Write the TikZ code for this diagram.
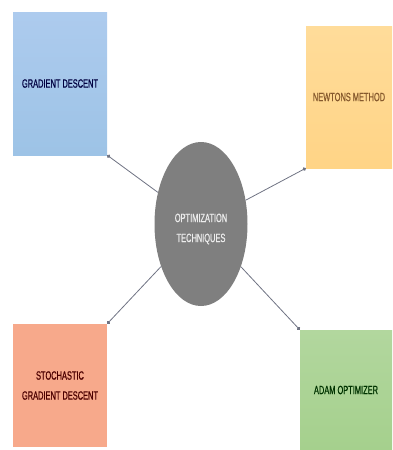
\documentclass[tikz,border=0pt]{standalone}
\usepackage{fontspec}
\usepackage{xcolor}
\usepackage{tikz}
\usetikzlibrary{arrows.meta,positioning,shapes.geometric}
\newfontfamily\narrowfont[FakeStretch=0.62,FakeBold=0.6]{Liberation Sans}
\definecolor{bluex}{HTML}{9DC3E6}
\definecolor{bluetop}{HTML}{ADCBEE}
\definecolor{orangex}{HTML}{FFD486}
\definecolor{orangetop}{HTML}{FFDC9A}
\definecolor{salmonx}{HTML}{F7A98B}
\definecolor{greenx}{HTML}{A5D08D}
\definecolor{greentop}{HTML}{B2D79E}
\definecolor{grayx}{HTML}{7F7F7F}
\definecolor{linex}{HTML}{6F7383}
\tikzset{
  card/.style={minimum width=94pt,minimum height=143pt,inner sep=0pt,align=center,
    font=\narrowfont\fontsize{12}{20}\selectfont},
  conn/.style={-{Circle[length=3.5pt]},linex,line width=0.8pt}
}
\begin{document}
\begin{tikzpicture}[x=1pt,y=-1pt]
\useasboundingbox (0,0) rectangle (392,450);
\node[ellipse,fill=grayx,minimum width=93pt,minimum height=164pt,inner sep=0pt] (opt) at (201,224) {};
\node[align=center,text=white!85!gray,font=\narrowfont\fontsize{12}{20}\selectfont] (optext) at ([yshift=-5pt]opt.center) {OPTIMIZATION\\TECHNIQUES};
\node[card,top color=bluetop,bottom color=bluex,text=blue!25!black] (gd) at (60,83.5) {GRADIENT DESCENT};
\node[card,top color=orangetop,bottom color=orangex,text=brown!70!black,minimum width=86pt,minimum height=142pt] (newton) at (349,97) {NEWTONS METHOD};
\node[card,fill=salmonx,text=red!30!black,minimum height=123pt] (sgd) at (60,385.5) {STOCHASTIC\\GRADIENT DESCENT};
\node[card,top color=greentop,bottom color=greenx,text=green!20!black,minimum width=92pt,minimum height=120pt] (adam) at (346,390) {ADAM OPTIMIZER};
\draw[conn] (opt) -- (gd.south east);
\draw[conn] (opt) -- (newton.south west);
\draw[conn] (opt) -- (sgd.north east);
\draw[conn] (opt) -- (adam.north west);
\end{tikzpicture}
\end{document}
